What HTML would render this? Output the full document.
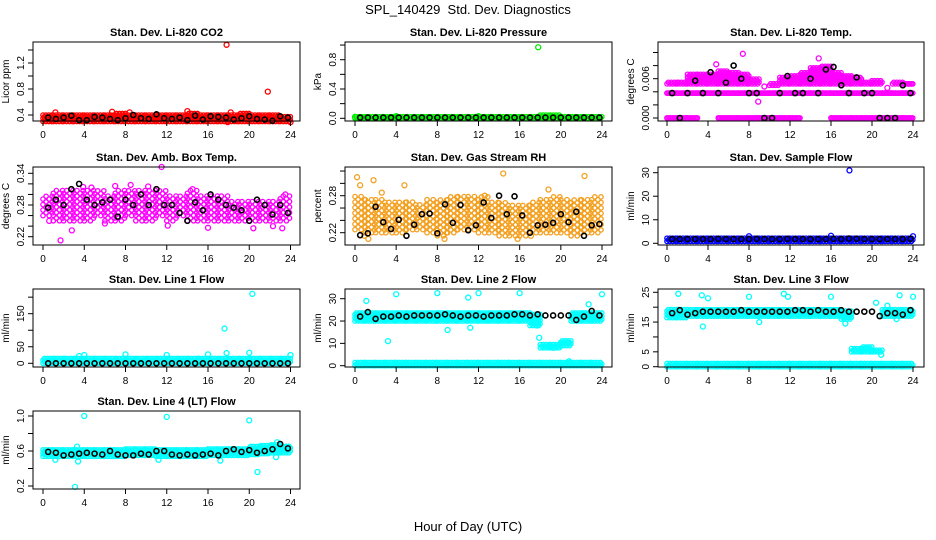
<!DOCTYPE html>
<html><head><meta charset="utf-8">
<style>
html,body{margin:0;padding:0;background:#fff;}
svg{display:block;font-family:"Liberation Sans",sans-serif;}
</style></head>
<body>
<svg id="chart" width="936" height="540" viewBox="0 0 936 540" xmlns="http://www.w3.org/2000/svg">
<text x="468" y="14" text-anchor="middle" font-size="13">SPL_140429&#160; Std. Dev. Diagnostics</text>
<text x="468" y="531" text-anchor="middle" font-size="13">Hour of Day (UTC)</text>
</svg>
<script>
// ---------- data ----------
const xTickValues=[0,4,8,12,16,20,24];
const blackStart=0.5, blackStep=0.75;

const co2BandLo=[0.30,0.30,0.30,0.30,0.30,0.30,0.30,0.30,0.30,0.30,0.30,0.30,0.30,0.30,0.30,0.30,0.30,0.30,0.30,0.30,0.30,0.30,0.30,0.30];
const co2BandHi=[0.40,0.41,0.41,0.40,0.41,0.40,0.40,0.42,0.41,0.41,0.40,0.41,0.41,0.40,0.42,0.40,0.40,0.41,0.41,0.42,0.41,0.40,0.40,0.39];
const co2OutX=[17.8,21.8,14.0,6.7,1.2,8.4,18.2,24.0,17.9];
const co2OutY=[1.48,0.76,0.46,0.45,0.44,0.44,0.44,0.29,0.29];
const co2Black=[0.36,0.34,0.36,0.39,0.32,0.32,0.37,0.36,0.34,0.32,0.35,0.40,0.35,0.34,0.41,0.35,0.34,0.36,0.32,0.39,0.33,0.38,0.37,0.36,0.33,0.35,0.38,0.34,0.33,0.31,0.38,0.36];

const presBandLo=[0,0,0,0,0,0,0,0,0,0,0,0,0,0,0,0,0,0,0,0,0,0,0,0];
const presBandHi=[0.02,0.02,0.02,0.02,0.02,0.02,0.02,0.02,0.02,0.02,0.02,0.02,0.02,0.02,0.02,0.02,0.02,0.02,0.04,0.04,0.02,0.02,0.02,0.02];
const presOutX=[17.8,0,4,12];
const presOutY=[0.97,0.02,0.03,0.03];
const presBlack=[0.01,0.01,0.01,0.01,0.01,0.01,0.01,0.01,0.01,0.01,0.01,0.01,0.01,0.01,0.01,0.01,0.01,0.01,0.01,0.01,0.01,0.01,0.01,0.01,0.01,0.01,0.01,0.01,0.01,0.01,0.01,0.01];

const tempZeroLo=[0,0,0,null,null,0,0,0,0,0,0,0,0,null,null,null,0,0,0,0,0,0,0,0];
const tempZeroHi=[0,0,0,null,null,0,0,0,0,0,0,0,0,null,null,null,0,0,0,0,0,0,0,0];
const tempRowLo=[0.0038,0.0038,0.0038,0.0038,0.0038,0.0038,0.0038,0.0038,0.0038,0.0038,0.0038,0.0038,0.0038,0.0038,0.0038,0.0038,0.0038,0.0038,0.0038,0.0038,0.0038,0.0038,0.0038,0.0038];
const tempRowHi=[0.0038,0.0038,0.0038,0.0038,0.0038,0.0038,0.0038,0.0038,0.0038,0.0038,0.0038,0.0038,0.0038,0.0038,0.0038,0.0038,0.0038,0.0038,0.0038,0.0038,0.0038,0.0038,0.0038,0.0038];
const tempBandLo=[0.0052,0.0052,0.0052,0.0052,0.0052,0.0052,0.0052,0.0052,0.0052,null,0.0050,0.0052,0.0052,0.0052,0.0052,0.0052,0.0052,0.0052,0.0052,0.0052,0.0052,null,0.0052,0.0052];
const tempBandHi=[0.0054,0.0056,0.0066,0.0066,0.0068,0.0072,0.0070,0.0066,0.0060,null,0.0052,0.0062,0.0064,0.0070,0.0076,0.0080,0.0070,0.0064,0.0062,0.0056,0.0058,null,0.0054,0.0052];
const tempOutX=[7.4,8.9,14.8,4.8,9.5,21.5];
const tempOutY=[0.0098,0.0025,0.0091,0.0082,0.0048,0.0046];
const tempBlack=[0.0038,0,0.0038,0.0057,0.0038,0.0070,0.0038,0.0054,0.0080,0.0060,0.0038,0.0038,0,0,0.0038,0.0064,0.0038,0.0038,0.0060,0.0038,0.0074,0.0078,0.0050,0.0038,0.0062,0.0038,0.0038,0,0,0,0.0050,0.0038];

const ambBandLo=[0.26,0.25,0.25,0.25,0.25,0.26,0.25,0.25,0.26,0.25,0.25,0.26,0.25,0.26,0.25,0.25,0.25,0.25,0.25,0.25,0.25,0.25,0.25,0.25];
const ambBandHi=[0.30,0.31,0.31,0.31,0.31,0.31,0.30,0.31,0.31,0.31,0.31,0.31,0.30,0.30,0.31,0.30,0.30,0.30,0.29,0.29,0.29,0.29,0.29,0.30];
const ambOutX=[1.7,2.8,11.5,8.5,10.2,16,20.4,23.2,0.6,6,12.1,22.3,3.9,4.7,7,14.5,23.5];
const ambOutY=[0.213,0.232,0.352,0.318,0.315,0.237,0.236,0.236,0.25,0.245,0.241,0.24,0.314,0.313,0.316,0.31,0.30];
const ambBlack=[0.275,0.29,0.28,0.31,0.32,0.29,0.28,0.285,0.29,0.258,0.29,0.28,0.30,0.28,0.31,0.28,0.28,0.265,0.25,0.285,0.27,0.30,0.29,0.28,0.275,0.27,0.25,0.29,0.28,0.262,0.28,0.265];

const rhBandLo=[0.225,0.22,0.22,0.22,0.22,0.225,0.225,0.22,0.215,0.22,0.225,0.225,0.22,0.22,0.215,0.215,0.215,0.22,0.22,0.22,0.22,0.215,0.22,0.22];
const rhBandHi=[0.28,0.275,0.275,0.27,0.27,0.27,0.265,0.275,0.275,0.28,0.28,0.28,0.28,0.27,0.27,0.265,0.265,0.27,0.275,0.28,0.275,0.275,0.275,0.28];
const rhOutX=[0.2,0.5,1.8,4.8,14.4,22.3,0.9,1.3,8.7,15.8,17.1,18.8,12.6,2.6];
const rhOutY=[0.31,0.297,0.305,0.297,0.316,0.312,0.215,0.21,0.21,0.21,0.215,0.29,0.28,0.285];
const rhBlack=[0.216,0.219,0.262,0.237,0.226,0.241,0.215,0.233,0.250,0.251,0.219,0.266,0.236,0.265,0.224,0.232,0.269,0.244,0.280,0.250,0.279,0.248,0.220,0.232,0.233,0.236,0.250,0.237,0.254,0.215,0.232,0.234];

const sampBandLo=[0.8,0.8,0.8,0.8,0.8,0.8,0.8,0.8,0.8,0.8,0.8,0.8,0.8,0.8,0.8,0.8,0.8,0.8,0.8,0.8,0.8,0.8,0.8,0.8];
const sampBandHi=[2.4,2.4,2.4,2.6,2.4,2.4,2.4,2.6,2.6,2.4,2.4,2.4,2.4,2.4,2.4,2.6,2.6,2.6,2.6,2.6,2.4,2.4,2.4,2.6];
const sampOutX=[17.8,8,16,24];
const sampOutY=[31,3,3.2,3];
const sampBlack=[1.8,1.8,1.8,1.8,1.8,1.8,1.9,1.8,1.8,1.8,1.8,1.9,1.8,1.8,1.8,1.9,1.8,1.8,1.8,1.8,1.8,1.9,1.8,2.0,1.9,1.8,1.8,1.8,1.8,1.8,1.8,1.9];

const l1BandLo=[0,0,0,0,0,0,0,0,0,0,0,0,0,0,0,0,0,0,0,0,0,0,0,0];
const l1BandHi=[16,16,16,17,17,16,16,17,17,16,16,17,17,16,16,16,17,17,17,17,17,16,16,16];
const l1OutX=[20.3,17.6,16,17.8,20,8,12,4,24,3.5];
const l1OutY=[210,105,27,31,32,27,25,25,25,22];
const l1Black=[0,0,0,0,0,0,0,0,0,0,0,0,0,0,0,0,0,0,0,0,0,0,0,0,0,0,0,0,0,0,0,0];

const l2BandLo=[20,20,20,20,20,20,20,20,20,20,20,20,20,20,20,20,20,18,8,8,9,20,20,20];
const l2BandHi=[24,24,24,24,24,24,24,24,24,24,24,24,24,24,24,24,24,23,9.5,9.5,11,24,24,24];
const l2LowLo=[0,0,0,0,0,0,0,0,0,0,0,0,0,0,0,0,0,0,0,0,0,0,0,0];
const l2LowHi=[1.5,1.5,1.5,1.5,1.5,1.5,1.5,1.5,1.5,1.5,1.5,1.5,1.5,1.5,1.5,1.5,1.5,1.5,1.5,1.5,1.5,1.5,1.5,1.5];
const l2OutX=[1.1,3.2,4,8,9,11,11.2,12,16,17.9,22.7,24,20.8,19.3,17.7];
const l2OutY=[29,11,32,32.5,16,30.5,17,32.5,32.5,12.5,27.5,32,2,8,18];
const l2Black=[22,24,21,22,22,22.5,22,22.5,22.5,22.5,22.5,23,22.5,22,22.5,22.5,22,22.5,22.5,22.5,23,23,22.5,23,22.5,22.5,22.5,22.5,20.5,22,24.5,22.5];

const l3BandLo=[16.5,16.5,17,17,17,17,17,17,17,17,17,17,17,17,17,17,17,16,5,5,5,17,17,17];
const l3BandHi=[19.5,19.5,19.5,19.5,19.5,19.5,19.5,19.5,19.5,19.5,19.5,19.5,19.5,19.5,19.5,19.5,19.5,19,6,6.5,5.5,19.5,19.5,19.5];
const l3LowLo=[0,0,0,0,0,0,0,0,0,0,0,0,0,0,0,0,0,0,0,0,0,0,0,0];
const l3LowHi=[1.2,1.2,1.2,1.2,1.2,1.2,1.2,1.2,1.2,1.2,1.2,1.2,1.2,1.2,1.2,1.2,1.2,1.2,1.2,1.2,1.2,1.2,1.2,1.2];
const l3OutX=[1.1,3.4,3.5,4,8,9,11.4,11.8,16,17.4,20.4,20.9,22.7,24,21.5,22.4];
const l3OutY=[24.5,24,13.5,23,23.5,15,24.5,23.5,23.5,14.5,21.5,4,24,23.5,20.5,16];
const l3Black=[18,19,17.5,18,18.5,18.5,18.5,18.5,18.5,19,18.5,18.5,18.5,18.5,18.5,18.5,19,19,18.5,19,18.5,18.5,19,18.5,18.5,18.5,18.5,17,18,18,17.5,19];

const l4BandLo=[0.54,0.54,0.54,0.54,0.54,0.54,0.54,0.54,0.55,0.55,0.55,0.54,0.54,0.54,0.54,0.54,0.55,0.55,0.55,0.55,0.56,0.57,0.58,0.58];
const l4BandHi=[0.62,0.62,0.62,0.62,0.62,0.62,0.62,0.62,0.63,0.63,0.63,0.62,0.62,0.62,0.61,0.61,0.62,0.62,0.63,0.63,0.65,0.66,0.67,0.66];
const l4OutX=[3.1,4,12,20,20.8,3.4,1.2,3.3,22.7,11.2,17.2,22.6];
const l4OutY=[0.19,1.0,0.99,0.95,0.36,0.48,0.5,0.65,0.7,0.5,0.49,0.53];
const l4Black=[0.59,0.58,0.55,0.56,0.57,0.58,0.57,0.56,0.60,0.56,0.55,0.55,0.57,0.56,0.60,0.60,0.56,0.55,0.56,0.55,0.56,0.57,0.55,0.60,0.62,0.59,0.61,0.58,0.60,0.62,0.68,0.63];

// ---------- layout ----------
const cols=[{bl:33,br:300,x0:43,x24:290.5},{bl:345,br:612,x0:355,x24:602},{bl:658,br:924,x0:667,x24:913}];
const rows=[{t:42,b:121},{t:167,b:245},{t:289,b:367},{t:411,b:489}];
const NS="http://www.w3.org/2000/svg";
const svg=document.getElementById('chart');
function mk(tag,attrs,parent){const e=document.createElementNS(NS,tag);for(const k in attrs)e.setAttribute(k,attrs[k]);(parent||svg).appendChild(e);return e;}

function panel(o){
  const c=cols[o.col], r=rows[o.row];
  const g=mk('g',{});
  
  
  const xOf=h=>c.x0+h*(c.x24-c.x0)/24;
  const k=(o.ref[3]-o.ref[1])/(o.ref[2]-o.ref[0]);
  const yOf=v=>o.ref[1]+(v-o.ref[0])*k;
  const t=mk('text',{x:(c.bl+c.br)/2,y:r.t-6,'text-anchor':'middle','font-size':11,'font-weight':'bold'},g);
  t.textContent=o.title;
  
  
  const yl=mk('text',{x:0,y:0,'text-anchor':'middle','font-size':10,transform:`translate(${c.bl-24},${(r.t+r.b)/2}) rotate(-90)`},g);
  yl.textContent=o.ylab;
  
  
  const pg=mk('g',{fill:'none',stroke:o.color,'stroke-width':1.3},g);
  
  
  const dx=o.sparse?0.3:0.14, dy=o.sparse?5.5:3.2;
  o.bands.forEach(([lo,hi])=>{
    for(let h=0;h<24;h++){
      if(lo[h]===null||hi[h]===null)continue;
      const y1=yOf(lo[h]), y2=yOf(hi[h]);
      let j=0;
      for(let x=h;x<h+1-1e-9&&x<=24;x+=dx,j++){
        const shift=(j%2)*dy/2;
        for(let y=y1-shift;y>=y2-0.5;y-=dy){
          mk('circle',{cx:xOf(x).toFixed(1),cy:y.toFixed(1),r:2.2},pg);
        }
        if(y1-y2<1) mk('circle',{cx:xOf(x).toFixed(1),cy:y1.toFixed(1),r:2.2},pg);
      }
    }
  });
  o.outX.forEach((x,i)=>{
    const p=mk('circle',{cx:xOf(x),cy:yOf(o.outY[i]),r:2.5},pg);
    
    
  });
  const bg=mk('g',{fill:'none',stroke:'#000','stroke-width':1.6},g);
  
  
  o.black.forEach((v,i)=>{
    const p=mk('circle',{cx:xOf(blackStart+i*blackStep),cy:yOf(v),r:2.5},bg);
    
    
  });
  const box=mk('rect',{x:c.bl,y:r.t,width:c.br-c.bl,height:r.b-r.t,fill:'none',stroke:'#000','stroke-width':1},g);
  
  
  xTickValues.forEach(v=>{
    const x=xOf(v);
    mk('line',{x1:x,x2:x,y1:r.b,y2:r.b+5,stroke:'#000'},g);
    const tl=mk('text',{x:x,y:r.b+17,'text-anchor':'middle','font-size':10},g);
    tl.textContent=v;
    
    
  });
  o.ticks.forEach(v=>{
    const y=yOf(v);
    mk('line',{x1:c.bl-5,x2:c.bl,y1:y,y2:y,stroke:'#000'},g);
  });
  o.labels.forEach(v=>{
    const y=yOf(v);
    const tl=mk('text',{x:0,y:0,'text-anchor':'middle','font-size':10,transform:`translate(${c.bl-9},${y}) rotate(-90)`},g);
    tl.textContent=v;
    
    
  });
}

panel({name:'co2',col:0,row:0,title:'Stan. Dev. Li-820 CO2',ylab:'Licor ppm',color:'#ff0000',ref:[0.4,115,1.2,63],ticks:[0.4,0.6,0.8,1.0,1.2,1.4],labels:['0.4','0.8','1.2'],bands:[[co2BandLo,co2BandHi]],outX:co2OutX,outY:co2OutY,black:co2Black});
panel({name:'pressure',col:1,row:0,title:'Stan. Dev. Li-820 Pressure',ylab:'kPa',color:'#00ee00',ref:[0,118.3,0.8,59.7],ticks:[0,0.2,0.4,0.6,0.8,1.0],labels:['0.0','0.4','0.8'],bands:[[presBandLo,presBandHi]],outX:presOutX,outY:presOutY,black:presBlack});
panel({name:'li820-temp',col:2,row:0,title:'Stan. Dev. Li-820 Temp.',ylab:'degrees C',color:'#ff00ff',ref:[0,118,0.006,78.7],ticks:[0,0.002,0.004,0.006,0.008,0.010],labels:['0.000','0.006'],bands:[[tempZeroLo,tempZeroHi],[tempRowLo,tempRowHi],[tempBandLo,tempBandHi]],outX:tempOutX,outY:tempOutY,black:tempBlack});
panel({name:'amb-box-temp',col:0,row:1,title:'Stan. Dev. Amb. Box Temp.',ylab:'degrees C',color:'#ff00ff',sparse:true,ref:[0.22,236.7,0.34,173.3],ticks:[0.22,0.24,0.26,0.28,0.30,0.32,0.34],labels:['0.22','0.28','0.34'],bands:[[ambBandLo,ambBandHi]],outX:ambOutX,outY:ambOutY,black:ambBlack});
panel({name:'gas-stream-rh',col:1,row:1,title:'Stan. Dev. Gas Stream RH',ylab:'percent',color:'#f4a020',sparse:true,ref:[0.22,232.7,0.28,195.7],ticks:[0.22,0.24,0.26,0.28,0.30,0.32],labels:['0.22','0.28'],bands:[[rhBandLo,rhBandHi]],outX:rhOutX,outY:rhOutY,black:rhBlack});
panel({name:'sample-flow',col:2,row:1,title:'Stan. Dev. Sample Flow',ylab:'ml/min',color:'#0000ff',ref:[0,243.3,30,172.7],ticks:[0,10,20,30],labels:['0','10','20','30'],bands:[[sampBandLo,sampBandHi]],outX:sampOutX,outY:sampOutY,black:sampBlack});
panel({name:'line1-flow',col:0,row:2,title:'Stan. Dev. Line 1 Flow',ylab:'ml/min',color:'#00ffff',ref:[0,363.3,150,313.7],ticks:[0,50,100,150,200],labels:['0','50','150'],bands:[[l1BandLo,l1BandHi]],outX:l1OutX,outY:l1OutY,black:l1Black});
panel({name:'line2-flow',col:1,row:2,title:'Stan. Dev. Line 2 Flow',ylab:'ml/min',color:'#00ffff',ref:[0,365.7,30,298.7],ticks:[0,10,20,30],labels:['0','10','20','30'],bands:[[l2BandLo,l2BandHi],[l2LowLo,l2LowHi]],outX:l2OutX,outY:l2OutY,black:l2Black});
panel({name:'line3-flow',col:2,row:2,title:'Stan. Dev. Line 3 Flow',ylab:'ml/min',color:'#00ffff',ref:[0,366.7,25,292.3],ticks:[0,5,10,15,20,25],labels:['0','5','15','25'],bands:[[l3BandLo,l3BandHi],[l3LowLo,l3LowHi]],outX:l3OutX,outY:l3OutY,black:l3Black});
panel({name:'line4-flow',col:0,row:3,title:'Stan. Dev. Line 4 (LT) Flow',ylab:'ml/min',color:'#00ffff',ref:[0.2,486,1.0,416],ticks:[0.2,0.4,0.6,0.8,1.0],labels:['0.2','0.6','1.0'],bands:[[l4BandLo,l4BandHi]],outX:l4OutX,outY:l4OutY,black:l4Black});
</script>
</body></html>
